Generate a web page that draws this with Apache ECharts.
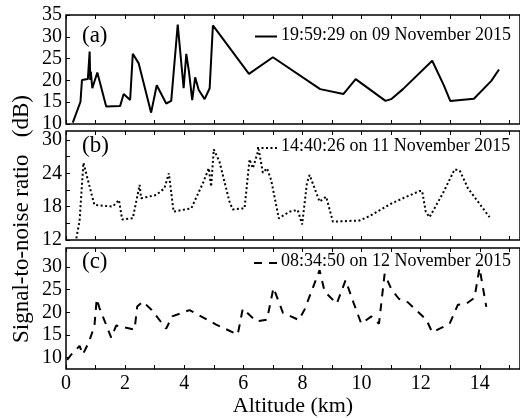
<!DOCTYPE html>
<html>
<head>
<meta charset="utf-8">
<script src="https://cdn.jsdelivr.net/npm/echarts@6/dist/echarts.min.js"></script>
<style>
  html, body { margin: 0; padding: 0; background: #fff; }
  #chart { width: 520px; height: 418px; }
</style>
</head>
<body>
<div id="chart"></div>
<script>
// panel (a) - solid
var altA = [0.23, 0.49, 0.54, 0.74, 0.8, 0.82, 0.84, 0.89, 1.06, 1.36, 1.83, 1.95, 2.17, 2.26, 2.46, 2.88, 3.07, 3.39, 3.56, 3.78, 3.98, 4.07, 4.16, 4.27, 4.37, 4.49, 4.69, 4.86, 4.97, 6.19, 7.0, 8.6, 9.39, 9.8, 10.81, 11.0, 11.4, 12.39, 12.78, 13.0, 13.8, 14.39, 14.65];
var snrA = [10.3, 15.1, 20.1, 20.3, 26.6, 20.1, 22, 18.2, 21.8, 14, 14.1, 16.9, 15.5, 26.1, 23.9, 12.6, 18.9, 14.7, 15.3, 32.8, 18.2, 26.1, 22, 15.5, 20.7, 17.8, 15.7, 18.2, 32.6, 21.5, 25.3, 18, 16.9, 20.3, 15.3, 15.7, 18, 24.5, 18.9, 15.3, 15.8, 19.9, 22.5];

// panel (b) - dotted
var altB = [0.35, 0.46, 0.59, 0.74, 0.96, 1.58, 1.79, 1.9, 2.26, 2.49, 2.54, 3.05, 3.33, 3.48, 3.64, 4.24, 4.63, 4.83, 4.91, 5.0, 5.19, 5.53, 5.64, 6.04, 6.21, 6.32, 6.52, 6.66, 6.8, 6.94, 7.2, 7.56, 7.84, 7.99, 8.15, 8.24, 8.58, 8.8, 9.03, 9.93, 10.27, 11.06, 11.96, 12.05, 12.17, 12.3, 12.75, 13.15, 13.32, 13.6, 14.33];
var snrB = [12.3, 15.5, 25.9, 22.8, 18.3, 18, 19.2, 15.7, 15.9, 21.9, 19.5, 20.1, 21.3, 24, 17.1, 17.7, 22.2, 24.9, 21.6, 28.3, 26.1, 18.9, 17.5, 17.7, 26.5, 24.9, 28.3, 24.1, 24.9, 22.8, 15.9, 17.1, 17.4, 14.8, 22.2, 23.7, 18.9, 19.8, 15.3, 15.5, 16.3, 18.7, 20.8, 20.8, 17.1, 16.1, 20.4, 24.7, 24.5, 21.3, 16.1];

// panel (c) - dashed
var altC = [0.04, 0.18, 0.46, 0.57, 0.77, 0.96, 1.04, 1.13, 1.38, 1.53, 1.7, 2.32, 2.41, 2.6, 2.9, 3.39, 3.59, 4.18, 5.08, 5.81, 5.98, 6.44, 6.8, 7.02, 7.34, 7.88, 8.07, 8.58, 8.75, 9.16, 9.46, 9.73, 9.99, 10.33, 10.59, 10.78, 11.0, 11.26, 11.57, 12.19, 12.39, 12.64, 12.98, 13.26, 13.54, 13.82, 13.99, 14.22];
var snrC = [9.5, 10.7, 12.6, 10.7, 13.4, 16.9, 23, 21, 16.9, 14.4, 17.1, 16.2, 21.3, 22.4, 20.5, 16.4, 19.1, 20.5, 17.3, 15.1, 20.8, 18, 18.4, 25.4, 19.9, 18.3, 20.6, 29.3, 24.6, 21.9, 27.1, 22.1, 17.5, 19.1, 17.5, 28.5, 25.2, 23, 22.2, 18.4, 15.6, 16.4, 17.5, 21.7, 21.9, 23.2, 29.8, 21.2];

var namesABC = ["19:59:29 on 09 November 2015", "14:40:26 on 11 November 2015", "08:34:50 on 12 November 2015"];
var xTicks = [0, 1, 2, 3, 4, 5, 6, 7, 8, 9, 10, 11, 12, 13, 14, 15];
var xLabels = [0, 2, 4, 6, 8, 10, 12, 14];
var ticksA = [10, 15, 20, 25, 30, 35];
var ticksB = [12, 15, 18, 21, 24, 27, 30];
var labelsB = [12, 18, 24, 30];
var ticksC = [10, 15, 20, 25, 30];

var FONT = "'Liberation Serif', 'DejaVu Serif', serif";
var X_MAX = 15.36;

function zip(xs, ys) {
  return xs.map(function (x, i) { return [x, ys[i]]; });
}

var grids = [
  { left: 66, right: 0, top: 15, height: 109 },
  { left: 66, right: 0, top: 131, height: 109 },
  { left: 66, right: 0, top: 248, height: 121 }
];
grids.forEach(function (g) {
  g.show = true;
  g.borderColor = "#000";
  g.borderWidth = 1.5;
  g.backgroundColor = "transparent";
});

function xAxisFor(idx, pos, showLabels) {
  return {
    type: "value",
    gridIndex: idx,
    position: pos,
    min: 0,
    max: X_MAX,
    axisLine: { show: false },
    splitLine: { show: false },
    axisTick: { show: true, inside: true, length: 4, customValues: xTicks, lineStyle: { color: "#000", width: 1 } },
    axisLabel: {
      show: showLabels,
      customValues: xLabels,
      color: "#000",
      fontFamily: FONT,
      fontSize: 20,
      margin: 5
    }
  };
}

var xAxes = [
  xAxisFor(0, "bottom", false), xAxisFor(0, "top", false),
  xAxisFor(1, "bottom", false), xAxisFor(1, "top", false),
  xAxisFor(2, "bottom", true), xAxisFor(2, "top", false)
];
xAxes[4].name = "Altitude (km)";
xAxes[4].nameLocation = "middle";
xAxes[4].nameGap = 25;
xAxes[4].nameTextStyle = { color: "#000", fontFamily: FONT, fontSize: 22 };

function yAxisFor(idx, min, max, ticks, labels) {
  return {
    type: "value",
    gridIndex: idx,
    min: min,
    max: max,
    axisLine: { show: false },
    splitLine: { show: false },
    axisTick: { show: true, inside: true, length: 4, customValues: ticks, lineStyle: { color: "#000", width: 1 } },
    axisLabel: { color: "#000", fontFamily: FONT, fontSize: 20, margin: 4, customValues: labels }
  };
}

var yAxes = [
  yAxisFor(0, 10, 35, ticksA, ticksA),
  yAxisFor(1, 12, 31.6, ticksB, labelsB),
  yAxisFor(2, 7.5, 34.2, ticksC, ticksC)
];

var lineTypes = ["solid", [2, 2.5], [8, 7]];
var datas = [zip(altA, snrA), zip(altB, snrB), zip(altC, snrC)];

var series = datas.map(function (d, i) {
  return {
    name: namesABC[i],
    type: "line",
    xAxisIndex: i * 2,
    yAxisIndex: i,
    data: d,
    symbol: "none",
    animation: false,
    lineStyle: { color: "#000", width: 2, type: lineTypes[i] }
  };
});

// legend keys drawn by hand: short line sample + label
var keyY = [36.5, 148, 263];
var keyX0 = [255, 257, 254];
var keyDash = [null, [2, 2.5], [8, 7]];
var textY = [35, 146, 261];
var legendGraphics = [];
namesABC.forEach(function (n, i) {
  legendGraphics.push({
    type: "line",
    shape: { x1: keyX0[i], y1: keyY[i], x2: 277, y2: keyY[i] },
    style: { stroke: "#000", lineWidth: 2, lineDash: keyDash[i] }
  });
  legendGraphics.push({
    type: "text",
    x: 281,
    y: textY[i],
    style: { text: n, fontFamily: FONT, fontSize: 18, fill: "#000", verticalAlign: "middle" }
  });
});

var myChart = echarts.init(document.getElementById("chart"));
myChart.setOption({
  animation: false,
  backgroundColor: "#fff",
  grid: grids,
  xAxis: xAxes,
  yAxis: yAxes,
  series: series,
  graphic: legendGraphics.concat([
    { type: "text", left: 82, top: 24, style: { text: "(a)", fontFamily: FONT, fontSize: 23, fill: "#000" } },
    { type: "text", left: 82, top: 134, style: { text: "(b)", fontFamily: FONT, fontSize: 23, fill: "#000" } },
    { type: "text", left: 82, top: 250, style: { text: "(c)", fontFamily: FONT, fontSize: 23, fill: "#000" } },
    {
      type: "text",
      x: 22,
      y: 219,
      rotation: Math.PI / 2,
      style: { text: "Signal-to-noise ratio   (dB)", fontFamily: FONT, fontSize: 23, fill: "#000", align: "center", verticalAlign: "middle" }
    }
  ])
});
</script>
</body>
</html>
